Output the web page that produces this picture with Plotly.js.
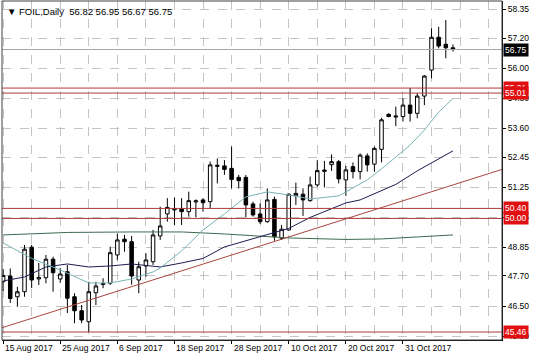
<!DOCTYPE html>
<html><head><meta charset="utf-8">
<script src="https://cdn.plot.ly/plotly-3.0.1.min.js"></script>
<style>html,body{margin:0;padding:0;background:#fff}#chart{width:536px;height:357px}</style>
</head><body><div id="chart"></div>
<script>
// ---- data ----
const barIndex = Array.from({length:64},(_, i)=>i);
const openP  = [47.47,47.70,46.87,47.07,48.85,47.58,47.63,48.37,47.58,47.87,46.87,46.31,45.87,47.03,47.36,47.41,48.54,49.17,49.07,47.54,48.10,48.27,49.30,50.18,50.34,50.39,50.27,50.66,50.74,50.67,52.08,52.10,52.00,51.64,51.64,50.58,50.18,49.87,50.76,49.21,49.54,50.90,50.97,50.71,51.34,51.88,52.15,52.27,51.54,52.07,51.87,52.50,52.17,52.76,54.16,54.05,54.07,54.53,54.20,54.89,55.93,57.24,56.96,56.82];
const highP  = [47.98,48.00,47.27,48.94,48.94,48.22,48.54,48.47,48.02,48.14,47.01,46.54,47.47,47.47,47.61,48.87,49.40,49.34,49.30,48.27,48.61,49.54,50.47,50.81,50.84,50.81,51.07,50.76,50.81,52.27,52.40,52.33,52.87,51.74,51.74,50.67,50.60,51.20,50.87,49.74,51.00,51.43,51.20,51.67,52.33,52.30,52.56,52.34,52.10,52.24,52.60,52.60,52.87,54.02,54.20,54.47,54.80,55.21,55.01,55.73,57.60,57.66,57.93,56.95];
const lowP   = [47.10,46.62,46.47,46.87,47.22,47.34,47.41,47.07,47.42,46.22,45.81,45.81,45.46,46.54,47.21,47.34,48.34,48.67,47.35,47.01,47.67,48.14,49.14,49.87,49.74,49.74,50.07,50.04,50.27,50.40,51.40,51.74,51.20,51.20,50.04,50.07,49.78,49.83,49.11,49.14,49.51,50.54,50.10,50.67,51.27,51.24,51.90,51.40,50.90,51.60,51.56,51.87,51.87,52.24,54.05,53.69,53.87,53.87,54.00,54.53,55.60,56.80,56.40,56.67];
const closeP = [47.72,46.80,47.07,48.77,47.54,47.64,48.37,47.83,47.78,46.81,46.31,45.94,47.07,47.30,47.40,48.63,49.14,49.07,47.70,48.07,48.34,49.34,49.70,50.44,50.38,50.27,50.71,50.70,50.63,52.14,52.12,51.96,51.56,51.51,50.54,50.14,49.87,50.74,49.27,49.57,50.97,51.00,50.74,51.34,51.91,51.93,52.27,51.58,51.94,51.87,52.53,52.14,52.80,53.94,54.07,54.09,54.53,54.20,54.89,55.69,57.24,56.89,56.82,56.75];

const tickIdx    = [0,8,16,24,32,40,48,56];
const tickDates  = ["15 Aug 2017","25 Aug 2017","6 Sep 2017","18 Sep 2017","28 Sep 2017","10 Oct 2017","20 Oct 2017","31 Oct 2017"];
const priceTicks = [58.35,57.20,56.00,54.80,53.60,52.45,51.25,50.05,48.85,47.70,46.50,45.30];

const fastIdx = [0,4,8,12,15,18,21,22,25,28,31,34,37,40,43,47,51,53,57,59,61,63];
const fastMA  = [49.02,48.40,47.94,47.42,47.42,47.58,47.86,48.02,48.70,49.54,50.18,50.86,51.06,50.94,50.78,50.90,51.54,51.98,52.93,53.53,54.25,54.79];
const midIdx  = [0,3,6,9,12,15,18,22,25,28,31,36,38,40,43,48,50,55,58,63];
const midMA   = [47.50,47.66,48.06,48.18,48.06,48.10,48.18,48.06,48.22,48.40,48.86,49.28,49.42,49.60,50.04,50.62,50.74,51.36,51.90,52.70];
const slowIdx = [0,9,18,25,31,36,40,48,53,58,63];
const slowMA  = [49.34,49.44,49.46,49.46,49.38,49.30,49.22,49.16,49.18,49.26,49.34];

const levels      = [55.21,55.01,50.40,50.00,45.46];
const lastPrice   = 56.75;
const trendIdx    = [-0.5,70];
const trendPrice  = [45.60,51.97];
const titleText   = "FOIL,Daily  56.82 56.95 56.67 56.75";

// ---- chart ----
const FONT = "Liberation Sans, Arial, sans-serif";
const traces = [
  {type:'scatter',mode:'lines',x:slowIdx,y:slowMA,line:{color:'#3d6a4f',width:1},hoverinfo:'skip'},
  {type:'scatter',mode:'lines',x:midIdx,y:midMA,line:{color:'#1c1c50',width:1},hoverinfo:'skip'},
  {type:'scatter',mode:'lines',x:fastIdx,y:fastMA,line:{color:'#78b4b4',width:1},hoverinfo:'skip'},
  {type:'candlestick',x:barIndex,open:openP,high:highP,low:lowP,close:closeP,
   whiskerwidth:0,
   increasing:{line:{color:'#000',width:1},fillcolor:'#fff'},
   decreasing:{line:{color:'#000',width:1},fillcolor:'#000'},
   hoverinfo:'skip'}
];

const shapes = [];
shapes.push({type:'line',xref:'paper',x0:0,x1:1,yref:'y',y0:lastPrice,y1:lastPrice,line:{color:'#a8a8a8',width:1}});
levels.forEach(v=>shapes.push({type:'line',xref:'paper',x0:0,x1:1,yref:'y',y0:v,y1:v,line:{color:'#b03a3a',width:1}}));
shapes.push({type:'line',xref:'x',yref:'y',x0:trendIdx[0],x1:trendIdx[1],y0:trendPrice[0],y1:trendPrice[1],line:{color:'#a8463f',width:1}});
shapes.push({type:'rect',xref:'paper',yref:'paper',x0:0,x1:1,y0:0,y1:1,line:{color:'#404040',width:1}});

const annotations = [];
annotations.push({xref:'paper',yref:'paper',x:0,y:1,xanchor:'left',yanchor:'top',xshift:3,yshift:-3,showarrow:false,
  text:'\u25BC '+titleText,font:{family:FONT,size:9.5,color:'#000'}});
tickIdx.forEach((t,k)=>annotations.push({xref:'x',yref:'paper',x:t,y:0,xanchor:'left',yanchor:'top',xshift:0,yshift:-1,
  showarrow:false,text:tickDates[k],font:{family:FONT,size:8.5,color:'#000'}}));
const boxes = [[55.21,'#e01010'],[55.01,'#e01010'],[50.40,'#e01010'],[50.00,'#e01010'],[45.46,'#e01010'],[lastPrice,'#000']];
boxes.forEach(b=>annotations.push({xref:'paper',yref:'y',x:1,y:b[0],xanchor:'left',yanchor:'middle',xshift:1,showarrow:false,
  text:b[0].toFixed(2),bgcolor:b[1],borderpad:1,font:{family:FONT,size:8.5,color:'#fff'}}));

const layout = {
  width:536,height:357,
  margin:{l:2,r:34,t:1,b:17},
  paper_bgcolor:'#fff',plot_bgcolor:'#fff',
  showlegend:false,
  font:{family:FONT,size:8.5,color:'#000'},
  xaxis:{range:[-0.154,69.87],rangeslider:{visible:false},
    tickmode:'array',tickvals:tickIdx,showticklabels:false,ticks:'outside',ticklen:3,tickcolor:'#000',
    showgrid:true,gridcolor:'#c4c4c4',griddash:'dash',gridwidth:1,
    minor:{tickmode:'linear',tick0:0,dtick:4,showgrid:true,gridcolor:'#c4c4c4',griddash:'dash',ticks:''},
    showline:true,linecolor:'#000',zeroline:false,fixedrange:true},
  yaxis:{side:'right',range:[45.141,58.69],
    tickmode:'array',tickvals:priceTicks,ticktext:priceTicks.map(v=>v.toFixed(2)),
    ticks:'outside',ticklen:3,tickcolor:'#000',
    showgrid:true,gridcolor:'#c4c4c4',griddash:'dash',gridwidth:1,
    showline:true,linecolor:'#000',zeroline:false,fixedrange:true},
  shapes:shapes,annotations:annotations
};
Plotly.newPlot('chart',traces,layout,{staticPlot:true,displayModeBar:false});
</script></body></html>
